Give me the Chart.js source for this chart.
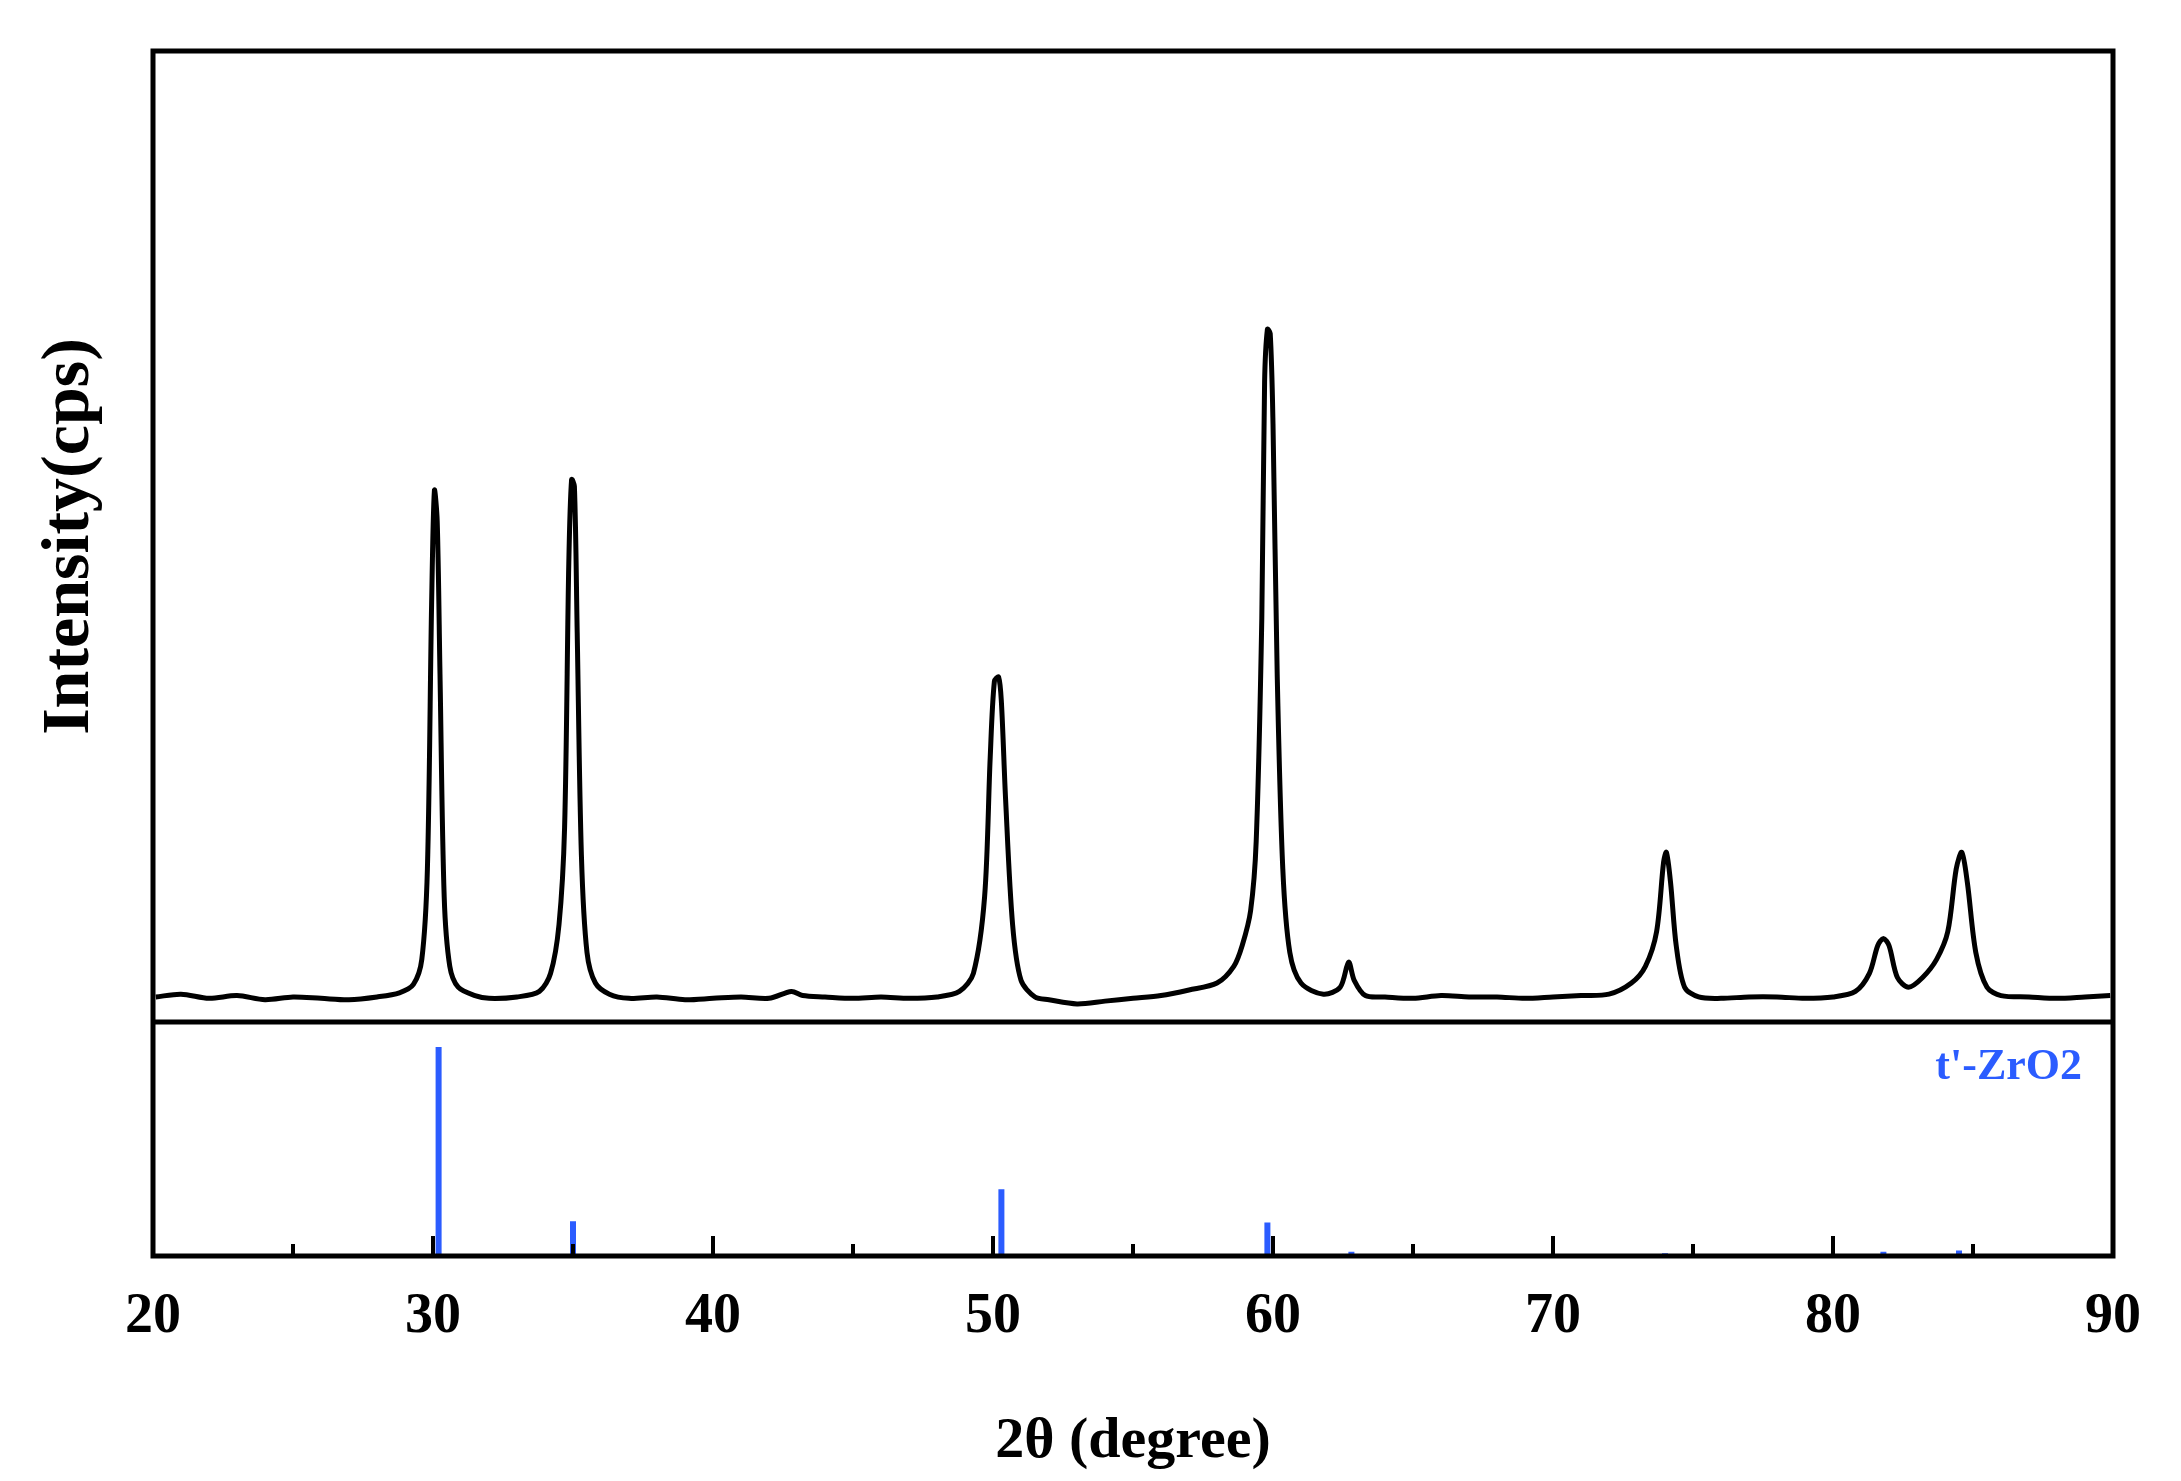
<!DOCTYPE html>
<html><head><meta charset="utf-8">
<script src="https://cdn.jsdelivr.net/npm/chart.js@4"></script>
<style>html,body{margin:0;padding:0;background:#fff}#wrap{width:2181px;height:1481px}</style>
</head><body><div id="wrap"><canvas id="c" width="2181" height="1481"></canvas></div>
<script>
const twoTheta = [20.1,21,22,23,24,25,26,27,28,28.8,29.3,29.6,29.8,29.95,30.05,30.15,30.25,30.4,30.6,30.9,31.5,32,33,33.8,34.2,34.5,34.7,34.85,34.95,35.05,35.15,35.3,35.5,35.8,36.3,37,38,39,40,41,42,42.8,43.2,44,45,46,47,48,48.8,49.3,49.7,49.9,50.05,50.2,50.3,50.45,50.7,51,51.5,52,53,54,55,56,57,58,58.6,58.9,59.2,59.4,59.6,59.7,59.8,59.9,60.0,60.15,60.35,60.6,61,61.8,62.4,62.7,62.9,63.3,64,65,66,67,68,69,70,71,72,72.8,73.3,73.7,73.95,74.05,74.2,74.4,74.7,75.2,76,77,78,79,80,80.8,81.3,81.6,81.8,82.0,82.3,82.7,83.2,83.7,84.1,84.4,84.6,84.8,85.1,85.5,86,87,88,89,89.9];
const intensity = [18,20,17,19,16,18,17,16,18,21,27,45,110,300,382,360,250,90,40,25,19,17,18,22,35,70,140,330,390,385,280,120,50,28,20,17,18,16,17,18,17,22,19,18,17,18,17,18,22,35,90,190,245,248,230,160,70,30,18,16,13,15,17,19,23,28,40,55,80,130,290,460,498,495,430,250,110,50,28,20,25,43,30,19,18,17,19,18,18,17,18,19,20,28,40,65,115,122,100,55,25,18,17,18,18,17,18,22,35,55,60,55,32,25,32,45,65,110,122,100,50,25,19,18,17,18,19];
const refPos = [30.2,35.0,50.3,59.8,62.8,74.0,81.8,84.5];
const refInt = [150,25,48,24,3,2,3,4];
const xTickLabels = ['20','30','40','50','60','70','80','90'];

const sticks = [];
refPos.forEach((p,i)=>{sticks.push({x:p,y:0},{x:p,y:refInt[i]},{x:p,y:null});});
const curve = twoTheta.map((x,i)=>({x,y:intensity[i]}));
const serif = "'Liberation Serif','DejaVu Serif',serif";

const frame = {
  id:'frame',
  afterDraw(chart){
    const ctx=chart.ctx, a=chart.chartArea, xs=chart.scales.x, y=chart.scales.y, y2=chart.scales.y2;
    const div = Math.min(y.bottom, y2.bottom);
    ctx.save();
    ctx.strokeStyle='#000'; ctx.lineWidth=5;
    ctx.strokeRect(a.left,a.top,a.right-a.left,a.bottom-a.top);
    ctx.beginPath(); ctx.moveTo(a.left,div); ctx.lineTo(a.right,div); ctx.stroke();
    ctx.lineWidth=4;
    for(let v=25; v<90; v+=5){
      const px=xs.getPixelForValue(v), len=(v%10===0)?20:12;
      ctx.beginPath(); ctx.moveTo(px,a.bottom); ctx.lineTo(px,a.bottom-len); ctx.stroke();
    }
    ctx.fillStyle='#2b5cff'; ctx.font="bold 44px "+serif; ctx.textAlign='right'; ctx.textBaseline='middle';
    ctx.fillText("t'-ZrO2", a.right-31, div+46);
    ctx.restore();
  }
};

new Chart(document.getElementById('c'),{
  type:'scatter',
  data:{datasets:[
    {data:curve, yAxisID:'y', showLine:true, borderColor:'#000', borderWidth:5, pointRadius:0, tension:0.3},
    {data:sticks, yAxisID:'y2', showLine:true, spanGaps:false, borderColor:'#2b5cff', borderWidth:6, pointRadius:0}
  ]},
  options:{
    responsive:false, animation:false, devicePixelRatio:1,
    layout:{padding:{top:51,right:68,left:0,bottom:0}},
    plugins:{legend:{display:false},tooltip:{enabled:false}},
    scales:{
      x:{type:'linear',min:20,max:90,
        grid:{display:false,drawTicks:false},border:{display:false},
        ticks:{stepSize:5,padding:28,color:'#000',font:{family:serif,size:56,weight:'bold'},
          callback:v=>xTickLabels.includes(String(v))?String(v):''},
        title:{display:true,text:'2θ (degree)',color:'#000',font:{family:serif,size:58,weight:'bold'},padding:{top:0}},
        afterFit(s){s.height=225;}
      },
      y2:{stack:'v',stackWeight:234,min:0,max:168,offset:false,
        grid:{display:false,drawTicks:false},border:{display:false},ticks:{display:false},
        afterFit(s){s.width=153;}
      },
      y:{stack:'v',stackWeight:971,min:0,max:698,offset:false,
        grid:{display:false,drawTicks:false},border:{display:false},ticks:{display:false},
        title:{display:true,text:'Intensity(cps)',color:'#000',font:{family:serif,size:68,weight:'bold'},padding:{top:30,bottom:0}},
        afterFit(s){s.width=153;}
      }
    }
  },
  plugins:[frame]
});
</script></body></html>
